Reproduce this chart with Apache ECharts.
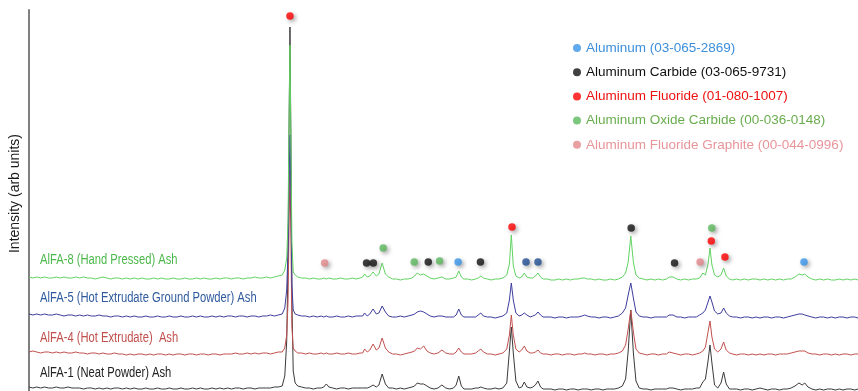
<!DOCTYPE html>
<html>
<head>
<meta charset="utf-8">
<title>XRD of AlFA ash samples</title>
<script src="https://cdn.jsdelivr.net/npm/echarts@6/dist/echarts.min.js"></script>
<style>
  html, body { margin: 0; padding: 0; background: #fff; }
  #chart { width: 858px; height: 391px; }
</style>
</head>
<body>
<div id="chart"></div>
<script>
// 2-theta (deg) shared by the four scans
var twoTheta = [
  5.4, 5.7, 6.0, 6.3, 6.6, 6.9, 7.2, 7.5, 7.8, 8.1, 8.4, 8.7, 9.0,
  9.3, 9.6, 9.9, 10.2, 10.5, 10.8, 11.1, 11.4, 11.7, 12.0, 12.3, 12.6, 12.9,
  13.2, 13.5, 13.8, 14.1, 14.4, 14.7, 15.0, 15.3, 15.6, 15.9, 16.2, 16.5, 16.8,
  17.1, 17.4, 17.7, 18.0, 18.3, 18.6, 18.9, 19.2, 19.5, 19.8, 20.1, 20.4, 20.7,
  21.0, 21.3, 21.6, 21.9, 22.2, 22.5, 22.8, 23.1, 23.4, 23.7, 24.0, 24.3, 24.6,
  24.9, 25.1, 25.25, 25.35, 25.42, 25.5, 25.58, 25.65, 25.75, 25.9, 26.1, 26.4,
  26.7, 27.0, 27.3, 27.6, 27.9, 28.1, 28.3, 28.5, 28.8, 29.1, 29.4, 29.7, 30.0, 30.3, 30.6, 30.9,
  31.1, 31.25, 31.45, 31.65, 31.9, 32.15, 32.35, 32.6, 32.85, 33.1, 33.4, 33.7, 34.0, 34.3, 34.6, 34.9,
  35.1, 35.3, 35.55, 35.8, 36.05, 36.3, 36.6, 36.9, 37.2, 37.5, 37.8, 38.1, 38.3, 38.5, 38.7, 38.9,
  39.2, 39.5, 39.8, 40.0, 40.2, 40.4, 40.7, 41.0, 41.3, 41.6, 41.9, 42.2,
  42.4, 42.55, 42.7, 42.9, 43.15, 43.35, 43.55, 43.75, 44.0, 44.2, 44.4, 44.6, 44.8, 45.0,
  45.3, 45.6, 45.9, 46.2, 46.5, 46.8, 47.1, 47.4, 47.7, 48.0, 48.2, 48.4, 48.7, 49.0, 49.3, 49.6, 49.9, 50.2, 50.5, 50.8, 51.1,
  51.35, 51.55, 51.75, 51.95, 52.15, 52.4, 52.7, 53.0, 53.3, 53.6, 53.9,
  54.2, 54.5, 54.7, 54.85, 55.0, 55.3, 55.6, 55.9, 56.2, 56.5, 56.8,
  57.05, 57.3, 57.5, 57.7, 57.85, 58.0, 58.2, 58.45, 58.7, 58.9, 59.1, 59.35, 59.6,
  59.9, 60.2, 60.5, 60.8, 61.1, 61.4, 61.7, 62.0, 62.3, 62.6, 62.9, 63.2, 63.5, 63.8, 64.1, 64.4,
  64.7, 64.95, 65.15, 65.4, 65.7, 66.0, 66.3, 66.6, 66.9, 67.2, 67.5, 67.8, 68.1, 68.4, 68.7, 69.0, 69.25
];

// intensities (arb units)
var alfa8 = [
  5,4,5,4,5,4,4,5,4,5,4,4,5,
  4,5,4,4,3,4,5,4,3,4,4,3,4,
  3,4,3,4,3,3,4,3,4,3,3,4,3,
  3,4,3,3,4,3,4,3,3,4,3,4,4,
  3,4,4,3,4,4,5,4,4,5,4,5,6,
  7,12,24,60,150,237,130,40,10,7,5,4,
  4,3,4,3,3,4,3,4,3,3,4,3,3,4,3,4,
  5,8,5,6,10,6,8,19,8,5,3,3,2,3,3,4,
  6,9,7,8,6,4,3,4,5,3,3,4,5,11,5,3,
  3,2,3,4,6,4,3,2,3,3,4,7,
  18,47,16,6,4,5,9,5,4,4,6,9,5,3,
  3,2,2,3,2,3,2,3,3,4,4,3,3,2,3,2,2,3,2,3,5,
  9,20,46,20,7,4,3,2,3,2,3,
  2,3,5,7,5,3,2,3,2,3,3,
  4,9,7,18,34,17,7,5,7,14,6,3,2,
  3,2,3,2,3,3,2,3,2,3,2,3,2,3,3,5,
  8,7,8,5,3,2,3,2,3,2,2,3,2,3,2,3,2
];
var alfa5 = [
  6,5,6,5,6,5,5,6,5,4,5,5,4,
  5,4,5,4,4,5,4,4,3,4,4,3,4,
  3,4,3,3,4,3,3,4,3,3,4,3,3,
  4,3,3,4,3,4,3,3,4,3,4,3,4,
  4,3,4,4,3,4,4,3,4,4,5,4,5,
  6,12,30,70,130,185,120,35,10,6,5,4,
  4,3,4,3,4,3,4,3,3,4,3,3,4,3,4,4,
  4,7,4,6,11,6,7,14,8,4,3,3,4,3,4,5,
  6,8,9,8,6,4,3,4,4,3,3,3,5,11,5,3,
  3,3,3,5,7,4,3,3,2,3,4,7,
  20,37,20,7,4,5,7,5,3,4,5,8,5,3,
  3,3,2,3,3,2,3,3,3,4,5,4,3,3,2,3,3,2,3,4,7,
  12,25,37,22,8,4,3,3,2,3,3,
  3,3,5,7,5,3,3,2,3,3,3,
  5,7,10,18,24,18,9,6,7,12,7,4,3,
  3,2,3,3,2,3,2,3,3,2,3,3,2,3,4,5,
  6,6,5,4,3,2,3,3,2,3,2,3,3,2,3,3,2
];
var alfa4 = [
  5,6,5,4,5,5,4,5,4,5,4,4,5,
  4,4,3,4,4,3,4,3,3,4,3,3,2,
  3,2,3,3,2,3,2,3,3,2,3,2,3,
  3,2,3,3,2,3,3,2,3,3,2,3,3,
  3,4,3,3,4,3,4,3,4,4,3,4,5,
  5,9,22,55,120,187,110,30,9,6,4,4,
  3,4,3,3,4,3,4,3,3,4,3,3,4,3,3,4,
  4,8,5,7,13,7,9,19,9,5,3,3,2,3,4,5,
  6,9,8,11,6,4,3,4,7,4,3,3,5,9,5,3,
  3,3,4,6,8,5,3,3,2,3,4,8,
  22,42,22,8,5,7,11,6,4,4,5,7,4,3,
  3,2,3,3,2,3,3,2,3,3,4,3,3,2,3,3,2,3,3,4,6,
  12,28,47,25,8,4,3,2,3,3,2,
  3,3,5,6,4,3,2,3,3,2,3,
  4,6,10,25,36,20,8,5,8,15,7,4,3,
  2,3,3,2,3,2,3,2,3,3,2,3,3,3,4,5,
  6,6,6,4,3,3,2,3,3,2,3,2,3,3,2,3,3
];
var alfa1 = [
  4,3,4,3,4,3,3,4,3,3,4,3,3,
  3,2,3,3,2,3,2,3,2,3,3,2,3,
  2,3,2,2,3,2,2,3,2,2,3,2,2,
  3,2,2,3,2,3,2,2,3,2,3,2,3,
  2,3,3,2,3,3,2,3,3,3,3,4,4,
  5,15,50,130,250,364,240,90,20,8,5,4,
  3,3,2,3,3,4,7,4,3,2,3,3,2,3,3,3,
  3,4,3,4,6,4,6,17,7,3,3,2,3,2,3,4,
  5,8,7,7,5,3,2,3,6,3,2,3,6,15,5,2,
  2,2,3,3,4,3,2,2,3,2,3,8,
  40,64,38,10,3,4,9,4,3,4,6,10,4,2,
  2,2,1,2,2,1,2,2,1,2,2,2,1,2,2,1,2,2,2,3,5,
  12,40,81,38,10,3,2,2,1,2,2,
  2,2,3,4,3,2,1,2,2,2,3,
  3,9,12,30,46,28,6,3,8,19,7,2,2,
  2,1,2,2,1,2,3,2,1,2,2,1,2,2,3,5,
  8,6,8,4,2,1,2,1,2,2,1,2,1,2,2,1,2
];

var scanNames = ['AlFA-8 (Hand Pressed) Ash', 'AlFA-5 (Hot Extrudate Ground Powder) Ash',
                 'AlFA-4 (Hot Extrudate)  Ash', 'AlFA-1 (Neat Powder) Ash'];
var scanData = [alfa8, alfa5, alfa4, alfa1];
var scanOffsets = [109, 71, 34, 0];   // vertical stacking
var scanColors = ['#62d262', '#3d3d9e', '#c0504d', '#3a3a3a'];
var scanTextColors = ['#4cb84c', '#2f5a9e', '#c0504d', '#222222'];
var scanLabelY = [260, 298, 338, 373];

// phase markers: [2theta, height]
var phaseNames = ['Aluminum (03-065-2869)', 'Aluminum Carbide (03-065-9731)', 'Aluminum Fluoride (01-080-1007)',
                  'Aluminum Oxide Carbide (00-036-0148)', 'Aluminum Fluoride Graphite (00-044-0996)'];
var aluminumPeaks = [[38.45, 129], [65.09, 129]];
var aluminumExtraPeaks = [[43.68, 129], [44.6, 129]];
var carbidePeaks = [[31.4, 128], [31.92, 128], [36.15, 129], [40.17, 129], [51.78, 163], [55.12, 128]];
var fluoridePeaks = [[25.5, 375], [42.6, 164], [57.95, 150], [59.0, 134]];
var oxideCarbidePeaks = [[32.68, 143], [35.07, 129], [37.02, 130], [57.99, 163]];
var graphitePeaks = [[28.17, 128], [57.09, 129]];
var phaseData = [aluminumPeaks, carbidePeaks, fluoridePeaks, oxideCarbidePeaks, graphitePeaks];
var phaseColors = ['#3a95e8', '#111111', '#ff0000', '#5cb85c', '#e3888c'];
var phaseTextColors = ['#3d8fdc', '#111111', '#ee1111', '#6aad4f', '#e8959a'];

var chart = echarts.init(document.getElementById('chart'));

var series = [];
for (var s = scanData.length - 1; s >= 0; s--) {
  var pts = [];
  for (var i = 0; i < twoTheta.length; i++) {
    pts.push([twoTheta[i], scanData[s][i] + scanOffsets[s]]);
  }
  series.push({
    type: 'line',
    name: scanNames[s],
    data: pts,
    showSymbol: false,
    lineStyle: { color: scanColors[s], width: 1 },
    z: 2
  });
}

var dotShadow = { shadowBlur: 4, shadowColor: 'rgba(0,0,0,0.45)', shadowOffsetX: 2, shadowOffsetY: 2 };
for (var p = 0; p < phaseData.length; p++) {
  series.push({
    type: 'scatter',
    name: phaseNames[p],
    data: phaseData[p],
    symbolSize: 7.5,
    itemStyle: Object.assign({ color: phaseColors[p] }, dotShadow),
    z: 5
  });
}
series.push({
  type: 'scatter',
  name: 'Aluminum (alt)',
  data: aluminumExtraPeaks,
  symbolSize: 7.5,
  itemStyle: Object.assign({ color: '#1f4f92' }, dotShadow),
  z: 5
});

// sample names, set in a narrow face
var labels = [];
for (var k = 0; k < scanNames.length; k++) {
  labels.push({
    type: 'text',
    x: 40,
    y: scanLabelY[k],
    scaleX: 0.8,
    style: {
      text: scanNames[k],
      fill: scanTextColors[k],
      font: '14px "Liberation Sans", sans-serif',
      verticalAlign: 'middle'
    }
  });
}

var option = {
  animation: false,
  backgroundColor: '#ffffff',
  grid: { left: 28, right: 0, top: 10, bottom: 0 },
  xAxis: {
    type: 'value', min: 5.4, max: 69.25, show: false
  },
  yAxis: {
    type: 'value', min: 0, max: 381,
    name: 'Intensity (arb units)',
    nameLocation: 'middle',
    nameGap: 7,
    nameTextStyle: { fontSize: 14, color: '#1a1a1a', fontFamily: 'Liberation Sans', padding: [0, 0, 0, 14] },
    axisLine: { show: true, lineStyle: { color: '#808080', width: 2 } },
    axisTick: { show: false },
    axisLabel: { show: false },
    splitLine: { show: false }
  },
  legend: {
    orient: 'vertical',
    left: 568,
    top: 35,
    icon: 'circle',
    itemWidth: 8,
    itemHeight: 8,
    itemGap: 8.2,
    selectedMode: false,
    textStyle: { fontSize: 13.5, fontFamily: 'Liberation Sans', lineHeight: 16 },
    data: phaseNames.map(function (n, i) {
      return { name: n, textStyle: { color: phaseTextColors[i] } };
    })
  },
  graphic: labels,
  series: series
};

chart.setOption(option);
</script>
</body>
</html>
